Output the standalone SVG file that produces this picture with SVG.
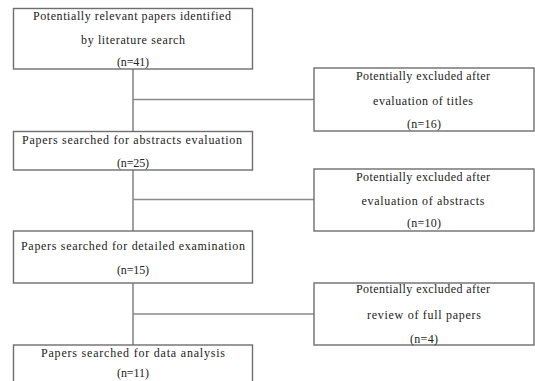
<svg xmlns="http://www.w3.org/2000/svg" width="535" height="381" viewBox="0 0 535 381">
<style>
.box{fill:#fff;stroke:#6e6e6e;stroke-width:1.4}
.c{fill:none;stroke:#8a8a8a;stroke-width:1.6}
text{font-family:"Liberation Serif","DejaVu Serif",serif;font-size:12px;fill:#222;text-anchor:middle}
</style>
<rect width="535" height="381" fill="#fff"/>
<g id="connectors">
<path class="c" d="M133 69V131.5M133 170V231M133 283V345M133 99.5H314M133 199.5H314M133 314H314"/>
</g>
<g id="n1">
<rect class="box" x="13.5" y="8.5" width="239" height="60.5"/>
<text x="132" y="20" textLength="198" lengthAdjust="spacing">Potentially relevant papers identified</text>
<text x="133" y="44" textLength="104" lengthAdjust="spacing">by literature search</text>
<text x="133" y="66" textLength="32" lengthAdjust="spacing">(n=41)</text>
</g>
<g id="n2">
<rect class="box" x="314" y="68" width="220" height="63"/>
<text x="423" y="80" textLength="134" lengthAdjust="spacing">Potentially excluded after</text>
<text x="423" y="105" textLength="100" lengthAdjust="spacing">evaluation of titles</text>
<text x="424" y="128" textLength="34" lengthAdjust="spacing">(n=16)</text>
</g>
<g id="n3">
<rect class="box" x="13.5" y="131.5" width="239" height="38.5"/>
<text x="132" y="144" textLength="220" lengthAdjust="spacing">Papers searched for abstracts evaluation</text>
<text x="133" y="167" textLength="32" lengthAdjust="spacing">(n=25)</text>
</g>
<g id="n4">
<rect class="box" x="314" y="169" width="220" height="62"/>
<text x="423" y="181" textLength="134" lengthAdjust="spacing">Potentially excluded after</text>
<text x="423" y="205" textLength="123" lengthAdjust="spacing">evaluation of abstracts</text>
<text x="424" y="227" textLength="34" lengthAdjust="spacing">(n=10)</text>
</g>
<g id="n5">
<rect class="box" x="13.5" y="231" width="239" height="52"/>
<text x="133" y="250" textLength="224" lengthAdjust="spacing">Papers searched for detailed examination</text>
<text x="133" y="274" textLength="32" lengthAdjust="spacing">(n=15)</text>
</g>
<g id="n6">
<rect class="box" x="314" y="283" width="220" height="62"/>
<text x="423" y="293" textLength="134" lengthAdjust="spacing">Potentially excluded after</text>
<text x="424" y="319" textLength="114" lengthAdjust="spacing">review of full papers</text>
<text x="424" y="343" textLength="28" lengthAdjust="spacing">(n=4)</text>
</g>
<g id="n7">
<rect class="box" x="13.5" y="345" width="239" height="45"/>
<text x="133" y="357" textLength="184" lengthAdjust="spacing">Papers searched for data analysis</text>
<text x="133" y="377" textLength="32" lengthAdjust="spacing">(n=11)</text>
</g>
</svg>
